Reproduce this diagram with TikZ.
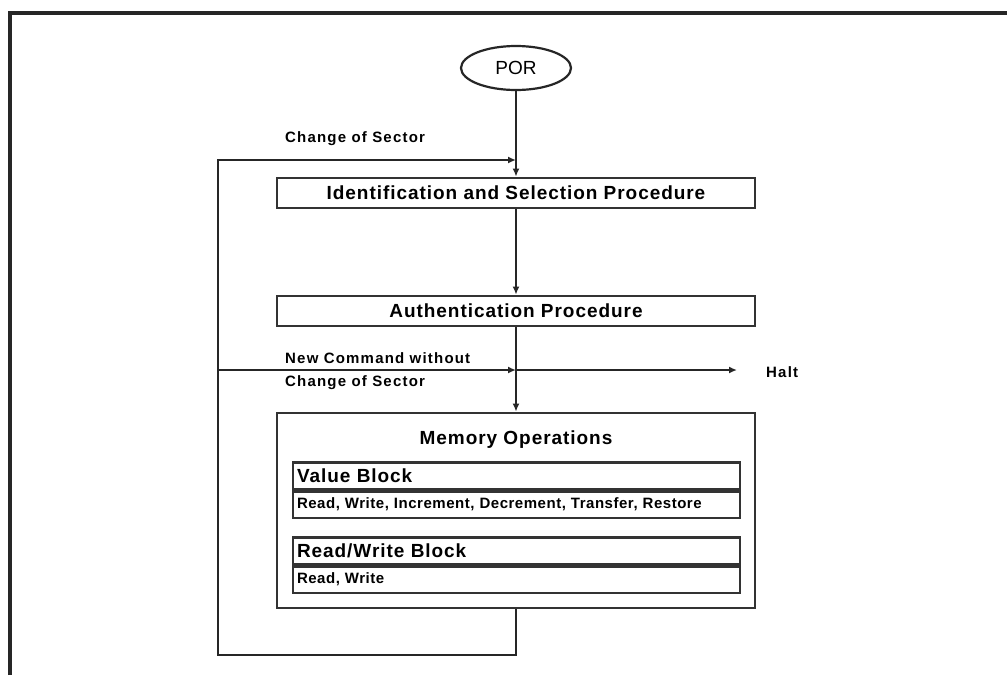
\documentclass[tikz,border=0pt]{standalone}
\usepackage{fontspec}
\setmainfont{Liberation Sans}
\usetikzlibrary{arrows.meta,shapes.geometric}
\begin{document}
\begin{tikzpicture}[x=1pt,y=-1pt,
  line/.style={line width=2.2pt, draw=black!85},
  arr/.style={line, -{Latex[length=8pt,width=7pt]}},
  box/.style={draw=black!80, line width=2.8pt, minimum width=478pt, inner sep=0pt},
  inbox/.style={draw=black!80, line width=2.6pt, minimum width=447pt, minimum height=26.5pt, inner sep=0pt},
  big/.style={font=\fontsize{19}{21}\selectfont\bfseries\addfontfeatures{LetterSpace=5}},
  inner/.style={font=\fontsize{15}{17}\selectfont\bfseries\addfontfeatures{LetterSpace=3.5}},
  small/.style={font=\fontsize{15}{23}\selectfont\bfseries\addfontfeatures{LetterSpace=8}, inner sep=0pt, anchor=west}
]
\useasboundingbox (0,0) rectangle (1007,675);
% frame
\draw[line width=3.5pt, black!85] (10,675) -- (10,13) -- (1007,13);

\node[ellipse, draw=black!85, line width=2.2pt, minimum width=110pt, minimum height=44pt,
      font=\fontsize{19}{21}\selectfont] (por) at (516,68) {POR};

\node[box, minimum height=30pt, big] (ident) at (516,193) {Identification and Selection Procedure};
\node[box, minimum height=30pt, big] (auth) at (516,311) {Authentication Procedure};
\node[box, minimum height=195pt] (mem) at (516,510.5) {};
\node[big, anchor=center] (memt) at (516,440) {Memory Operations};

\node[inbox, big, text width=439pt, align=left, anchor=north] (vb) at (516.5,461) {Value Block};
\node[inbox, inner, text width=439pt, align=left, anchor=north] (vbo) at (vb.south) {Read, Write, Increment, Decrement, Transfer, Restore};
\node[inbox, big, text width=439pt, align=left, anchor=north] (rb) at (516.5,536) {Read/Write Block};
\node[inbox, inner, text width=439pt, align=left, anchor=north] (rbo) at (rb.south) {Read, Write};

% coordinates
\coordinate (j1) at (por.south |- 0,160);
\coordinate (j2) at (por.south |- 0,370);
\coordinate (fbtop) at (218,160);
\coordinate (fbmid) at (218,370);
\coordinate (fbbot) at (218,655);
\coordinate (mbot) at (mem.south |- 0,655);
\coordinate (halt) at (737,370);

\draw[arr] (por.south) -- (ident.north);
\draw[arr] (ident.south) -- (auth.north);
\draw[arr] (auth.south) -- (mem.north);
\draw[arr] (mem.south) -- (mbot) -- (fbbot) -- (fbtop) -- (j1);
\draw[arr] (fbmid) -- (j2);
\draw[arr] (j2) -- (halt);

\node[small] (lcs) at (285,139) {Change of Sector};
\node[small, align=left, anchor=west] (lnc) at (285,371) {New Command without\\Change of Sector};
\node[small] (lhalt) at (766,372) {Halt};
\end{tikzpicture}
\end{document}
